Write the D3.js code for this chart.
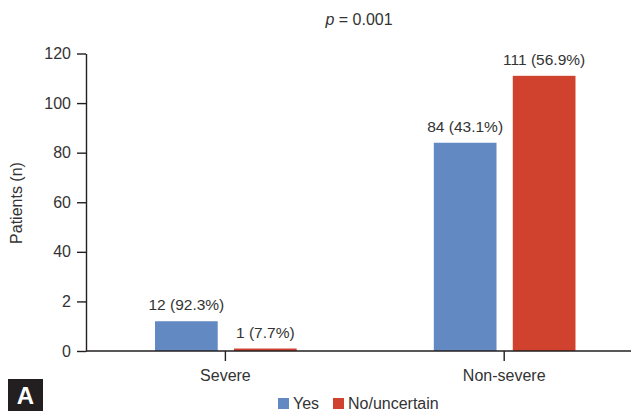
<!DOCTYPE html>
<html>
<head>
<meta charset="utf-8">
<script src="https://cdn.jsdelivr.net/npm/d3@7"></script>
<style>
  html, body { margin: 0; padding: 0; background: #fff; }
  svg { display: block; }
  text { font-family: "Liberation Sans", Arial, sans-serif; fill: #333; }
</style>
</head>
<body>
<svg id="chart" width="631" height="411"></svg>
<script>
// Patients by severity, split by response
const categories = ["Severe", "Non-severe"];
const seriesNames = ["Yes", "No/uncertain"];
const yesValues = [12, 84];
const noValues = [1, 111];
const yesLabels = ["12 (92.3%)", "84 (43.1%)"];
const noLabels = ["1 (7.7%)", "111 (56.9%)"];
const yTickValues = [0, 20, 40, 60, 80, 100, 120];
const yTickLabels = ["0", "2", "40", "60", "80", "100", "120"];
const seriesColors = ["#6389c2", "#d0412e"];

const svg = d3.select("#chart");
const axisColor = "#231f20";

const x0 = 86, yBottom = 351, yTop = 53.5;

const x = d3.scaleBand().domain(categories).range([x0, x0 + 557.6]).padding(0);
const xInner = d3.scaleBand().domain(seriesNames)
  .range([x.bandwidth() * 0.2475, x.bandwidth() * 0.7557])
  .paddingInner(0.206).paddingOuter(0);
const y = d3.scaleLinear().domain([0, 120]).range([yBottom, yTop]);

// Title
const title = svg.append("text")
  .attr("x", 359).attr("y", 25)
  .attr("text-anchor", "middle")
  .style("font-size", "16px");
title.append("tspan").style("font-style", "italic").text("p");
title.append("tspan").text(" = 0.001");

// Y axis
const yAxis = d3.axisLeft(y).tickValues(yTickValues)
  .tickFormat((d, i) => yTickLabels[i]).tickSize(9).tickPadding(6).tickSizeOuter(0);
const gy = svg.append("g").attr("transform", `translate(${x0},0)`).call(yAxis);
gy.select(".domain").attr("stroke", axisColor).attr("stroke-width", 1.4);
gy.selectAll(".tick line").attr("stroke", axisColor).attr("stroke-width", 1.4);
gy.selectAll(".tick text").style("font-size", "16px").style("font-family", "'Liberation Sans', Arial, sans-serif").attr("fill", "#333");

// Y axis title
svg.append("text")
  .attr("transform", "translate(22,203) rotate(-90)")
  .attr("text-anchor", "middle")
  .style("font-size", "16px")
  .text("Patients (n)");

// Bars
const rows = categories.map((c, i) => ({
  cat: c,
  vals: [
    { s: seriesNames[0], v: yesValues[i], label: yesLabels[i], color: seriesColors[0] },
    { s: seriesNames[1], v: noValues[i], label: noLabels[i], color: seriesColors[1] }
  ]
}));

const groups = svg.selectAll("g.cat").data(rows).join("g")
  .attr("class", "cat")
  .attr("transform", d => `translate(${x(d.cat)},0)`);

groups.selectAll("rect").data(d => d.vals).join("rect")
  .attr("x", d => xInner(d.s))
  .attr("width", xInner.bandwidth())
  .attr("y", d => y(d.v))
  .attr("height", d => yBottom - y(d.v))
  .attr("fill", d => d.color);

groups.selectAll("text.val").data(d => d.vals).join("text")
  .attr("class", "val")
  .attr("x", d => xInner(d.s) + xInner.bandwidth() / 2)
  .attr("y", d => y(d.v) - 11)
  .attr("text-anchor", "middle")
  .style("font-size", "15.5px")
  .text(d => d.label);

// X axis
const gx = svg.append("g").attr("transform", `translate(0,${yBottom})`);
gx.append("line").attr("x1", x0).attr("x2", 631).attr("y1", 0).attr("y2", 0)
  .attr("stroke", axisColor).attr("stroke-width", 1.4);
const xt = gx.selectAll("g.xt").data(categories).join("g")
  .attr("class", "xt")
  .attr("transform", d => `translate(${x(d) + x.bandwidth() / 2},0)`);
xt.append("line").attr("y1", 0).attr("y2", 10).attr("stroke", axisColor).attr("stroke-width", 1.4);
xt.append("text").attr("y", 30).attr("text-anchor", "middle")
  .style("font-size", "16px").text(d => d);

// Legend
const legend = svg.append("g").attr("transform", "translate(278,398)");
const legendOffsets = [0, 55];
seriesNames.forEach((name, i) => {
  const g = legend.append("g").attr("transform", `translate(${legendOffsets[i]},0)`);
  g.append("rect").attr("width", 11).attr("height", 11).attr("fill", seriesColors[i]);
  g.append("text").attr("x", 15).attr("y", 11).style("font-size", "16px").text(name);
});

// Panel letter
svg.append("rect").attr("x", 8).attr("y", 379).attr("width", 35).attr("height", 32).attr("fill", "#231f20");
svg.append("text").attr("x", 25.5).attr("y", 404).attr("text-anchor", "middle")
  .style("font-size", "24px").style("font-weight", "bold").style("fill", "#fff").text("A");
</script>
</body>
</html>
